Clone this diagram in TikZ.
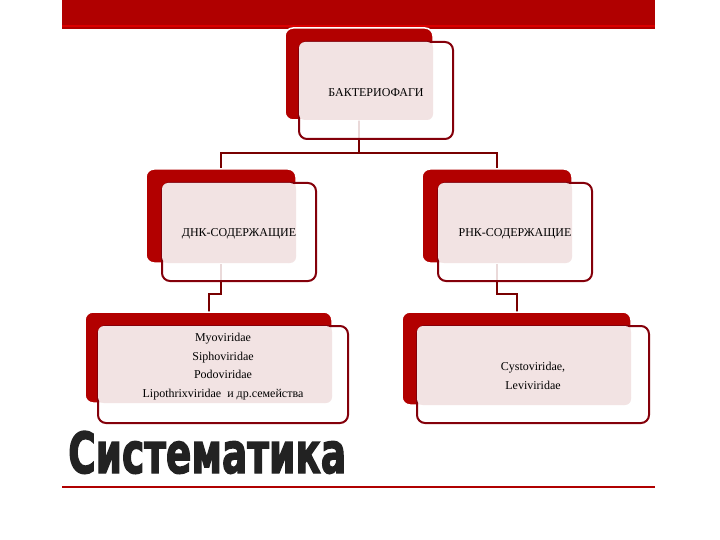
\documentclass[tikz,border=0pt]{standalone}
\usepackage{fontspec}
\setmainfont{Liberation Serif}
\newfontfamily\titlefont[FakeBold=2.5]{DejaVu Sans Condensed}
\usetikzlibrary{backgrounds}
\definecolor{bandred}{RGB}{176,0,0}
\definecolor{backred}{RGB}{178,0,0}
\definecolor{framered}{RGB}{132,0,10}
\definecolor{pinkfill}{RGB}{242,227,227}
\definecolor{connred}{RGB}{120,0,0}
\definecolor{titlegray}{RGB}{34,34,34}
\begin{document}
\begin{tikzpicture}[x=1pt,y=-1pt,
  backbox/.style={fill=backred, draw=white, line width=1.5pt, rounded corners=8pt, inner sep=0pt, outer sep=0pt, anchor=north west},
  framebox/.style={fill=white, fill opacity=0.85, draw=framered, line width=2pt, rounded corners=8pt, inner sep=0pt, outer sep=0pt, anchor=north west},
  pinkbox/.style={fill=pinkfill, rounded corners=6pt, inner sep=0pt, outer sep=0pt, anchor=north west},
  conn/.style={draw=connred, line width=2pt},
  lbl/.style={font=\fontsize{12}{18.5}\selectfont, align=center, text=black, inner sep=0pt}]
\useasboundingbox (0,0) rectangle (720,540);
% top band
\fill[bandred] (62,0) rectangle (655,29);
\draw[red!85!black, line width=1.2pt] (62,26) -- (655,26);
% top box
\node[backbox, minimum width=148pt, minimum height=92pt] (topback) at (285,28) {};
\node[framebox, minimum width=154pt, minimum height=97pt] (topframe) at (299,42) {};
\node[pinkbox, minimum width=134pt, minimum height=78pt] (toppink) at (299,42) {};
\node[lbl] (toptext) at ([yshift=-2pt]topframe.center) {БАКТЕРИОФАГИ};
% DNA box
\node[backbox, minimum width=150pt, minimum height=94pt] (dnaback) at (146,169) {};
\node[framebox, minimum width=154pt, minimum height=98pt] (dnaframe) at (162,183) {};
\node[pinkbox, minimum width=134pt, minimum height=80pt] (dnapink) at (162,183) {};
\node[lbl] (dnatext) at ([yshift=-2pt]dnaframe.center) {ДНК-СОДЕРЖАЩИЕ};
% RNA box
\node[backbox, minimum width=150pt, minimum height=94pt] (rnaback) at (422,169) {};
\node[framebox, minimum width=154pt, minimum height=98pt] (rnaframe) at (438,183) {};
\node[pinkbox, minimum width=134pt, minimum height=80pt] (rnapink) at (438,183) {};
\node[lbl] (rnatext) at ([yshift=-2pt]rnaframe.center) {РНК-СОДЕРЖАЩИЕ};
% lower left
\node[backbox, minimum width=247pt, minimum height=91pt] (lowlback) at (85,312) {};
\node[framebox, minimum width=250pt, minimum height=97pt] (lowlframe) at (98,326) {};
\node[pinkbox, minimum width=234pt, minimum height=77pt] (lowlpink) at (98,326) {};
\node[lbl] (lowltext) at ([yshift=8pt]lowlframe.center) {Myoviridae\\Siphoviridae\\Podoviridae\\Lipothrixviridae\ \ и др.семейства};
% lower right
\node[backbox, minimum width=229pt, minimum height=93pt] (lowrback) at (402,312) {};
\node[framebox, minimum width=232pt, minimum height=97pt] (lowrframe) at (417,326) {};
\node[pinkbox, minimum width=214pt, minimum height=79pt] (lowrpink) at (417,326) {};
\node[lbl] (lowrtext) at ([yshift=-1.5pt]lowrframe.center) {Cystoviridae,\\Leviviridae};
% connectors
\coordinate (busA) at (0,153);
\coordinate (busB) at (0,294);
\begin{pgfonlayer}{background}
\draw[conn] (topback.south) -- (topback.south |- busA) -| (dnaback.north);
\draw[conn] (topback.south |- busA) -| (rnaback.north);
\draw[conn] (dnaback.south) -- (dnaback.south |- busB) -| (lowlback.north);
\draw[conn] (rnaback.south) -- (rnaback.south |- busB) -| (lowrback.north);
\end{pgfonlayer}
% title and rule
\node[anchor=south west, inner sep=0pt, text=titlegray] (title) at (68,474) {\resizebox{278pt}{42pt}{\titlefont\bfseries Систематика}};
\coordinate (ruleL) at (62,487);
\coordinate (ruleR) at (655,487);
\draw[bandred, line width=2pt] (ruleL) -- (ruleR);
\end{tikzpicture}
\end{document}
